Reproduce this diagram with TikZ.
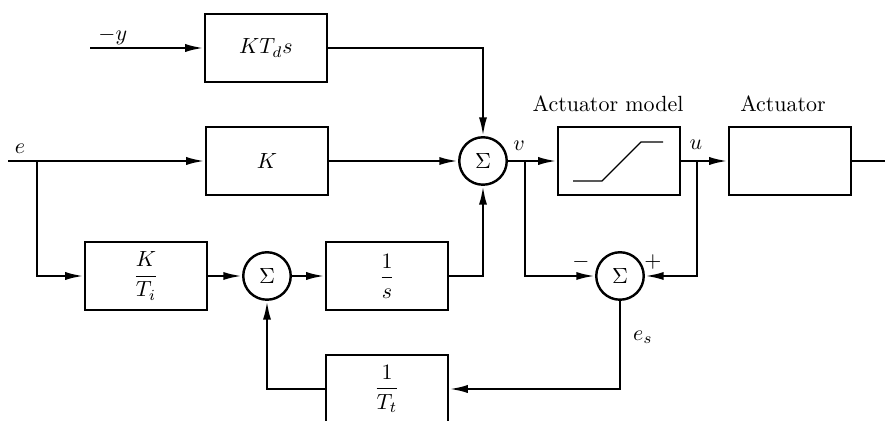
\documentclass[tikz,border=0pt]{standalone}
\usepackage{tikz}
\usetikzlibrary{arrows.meta}
\usepackage{amsmath}
\tikzset{%
	block/.style={draw,line width=1.1pt,shape=rectangle,minimum width=1.95cm,minimum height=1.09cm,inner sep=0pt},
	summ/.style={draw,line width=1.1pt,shape=circle,minimum size=0.76cm,inner sep=0pt},
	signal/.style={line width=1.1pt,>={Latex[length=3mm,width=1.3mm]}},
	lbl/.style={inner sep=1pt},
}
\begin{document}
\begin{tikzpicture}[x=0.016cm,y=-0.016cm]
	\useasboundingbox (0,0) rectangle (885,421);

	%bloki
	\node[block] (ktds) at (266,48) {$KT_d s$};
	\node[block] (k) at (267,161) {$K$};
	\node[block] (kti) at (146,276) {$\dfrac{K}{T_i}$};
	\node[block] (invs) at (387,276) {$\dfrac{1}{s}$};
	\node[block] (invtt) at (387,389) {$\dfrac{1}{T_t}$};
	\node[block] (actm) at (619,161) {};
	\node[block] (act) at (790,161) {};

	%sumatorji
	\node[summ] (sum1) at (483,161) {$\Sigma$};
	\node[summ] (sum2) at (267,276) {$\Sigma$};
	\node[summ] (sum3) at (620,276) {$\Sigma$};

	%nasicenje
	\draw[line width=0.6pt] ([shift={(-46,20)}]actm.center) -- ([shift={(-17,20)}]actm.center)
		-- ([shift={(22,-19)}]actm.center) -- ([shift={(44,-19)}]actm.center);

	%napisi
	\node[lbl] (lmodel) at (608,104) {Actuator model};
	\node[lbl] (lact) at (783,104) {Actuator};

	%tocke
	\coordinate (yin) at (90,48);
	\coordinate (ein) at (8,161);
	\coordinate (ebr) at (37,161);
	\coordinate (vbr) at (525,161);
	\coordinate (ubr) at (697,161);
	\coordinate (out) at (885,161);

	%povezave
	\draw[signal,->] (yin) -- node[lbl,above,pos=0.2] {$-y$} (ktds.west);
	\draw[signal,->] (ktds.east) -| (sum1.north);
	\draw[signal,->] (ein) -- (k.west);
	\node[lbl] (le) at (20,149) {$e$};
	\draw[signal,->] (ebr) |- (kti.west);
	\draw[signal,->] (k.east) -- (sum1.west);
	\draw[signal,->] (kti.east) -- (sum2.west);
	\draw[signal,->] (sum2.east) -- (invs.west);
	\draw[signal,->] (invs.east) -| (sum1.south);
	\draw[signal,->] (sum1.east) -- (actm.west);
	\node[lbl] (lv) at (519,146) {$v$};
	\draw[signal,->] (actm.east) -- (act.west);
	\node[lbl] (lu) at (696,145) {$u$};
	\draw[signal] (act.east) -- (out);
	\draw[signal,->] (vbr) |- (sum3.west);
	\node[lbl] (lminus) at (581,262) {$-$};
	\draw[signal,->] (ubr) |- (sum3.east);
	\node[lbl] (lplus) at (653,262) {$+$};
	\draw[signal,->] (sum3.south) |- (invtt.east);
	\node[lbl] (les) at (643,337) {$e_s$};
	\draw[signal,->] (invtt.west) -| (sum2.south);
\end{tikzpicture}
\end{document}
